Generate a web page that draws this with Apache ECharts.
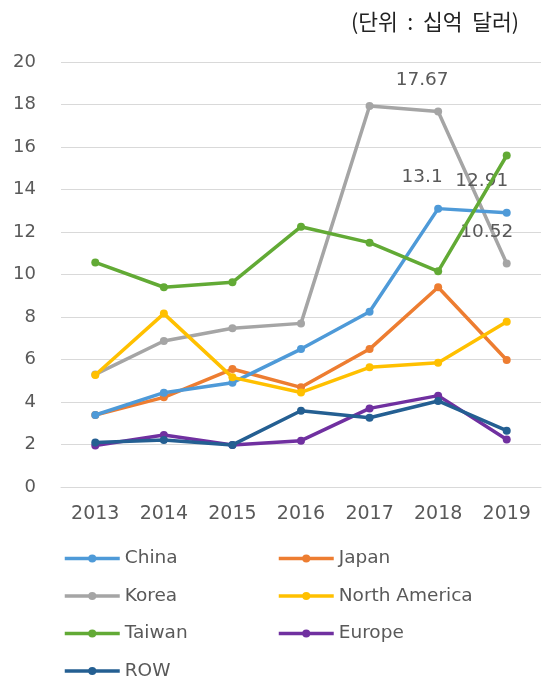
<!DOCTYPE html>
<html><head><meta charset="utf-8">
<script src="https://cdn.jsdelivr.net/npm/echarts@6/dist/echarts.min.js"></script>
<style>html,body{margin:0;padding:0;background:#fff}#c{width:543px;height:682px}</style>
</head><body><div id="c"></div>
<script>
const years = ['2013','2014','2015','2016','2017','2018','2019'];
const yTicks = [0,2,4,6,8,10,12,14,16,18,20];
const china = [3.39, 4.44, 4.91, 6.49, 8.25, 13.1, 12.91];
const japan = [3.39, 4.22, 5.55, 4.69, 6.49, 9.40, 5.98];
const korea = [5.30, 6.87, 7.47, 7.70, 17.93, 17.67, 10.52];
const northAmerica = [5.27, 8.16, 5.16, 4.45, 5.63, 5.85, 7.78];
const taiwan = [10.57, 9.40, 9.63, 12.25, 11.50, 10.15, 15.60];
const europe = [1.95, 2.45, 1.98, 2.18, 3.70, 4.30, 2.24];
const row = [2.09, 2.21, 1.98, 3.59, 3.26, 4.05, 2.65];
const labelled = {China: [5, 6], Korea: [5, 6]};

const FONT = 'DejaVu Sans';
const TXT = '#595959';
function mk(name, data, color, z, lastDx) {
  const idx = labelled[name] || [];
  return {
    name, type: 'line', data: data.map((v, i) => idx.includes(i) ? {
      value: v,
      label: {show: true, position: 'top', offset: [i === 6 ? lastDx : -16, -13], color: TXT, fontSize: 18.5, fontFamily: FONT,
        formatter: p => String(p.value)}
    } : v),
    color, z,
    symbol: 'circle', symbolSize: 8,
    lineStyle: {width: 3.5, color},
    itemStyle: {color},
    label: {show: false}
  };
}
const chart = echarts.init(document.getElementById('c'));
const legendText = {color: TXT, fontSize: 18.5, fontFamily: FONT, padding: [0,0,0,0]};
const legendBase = {orient: 'vertical', top: 549, itemGap: 18.5, padding: 0,
  itemWidth: 55, itemHeight: 10, textStyle: legendText, lineStyle: {width: 3.5}};
chart.setOption({
  animation: false,
  title: {text: '(단위  :  십억  달러)', right: 19, top: 6,
    textStyle: {fontFamily: 'Noto Sans CJK KR', fontSize: 21.5, fontWeight: 'normal', color: '#222'}},
  grid: {left: 61, right: 2, top: 62, bottom: 195},
  xAxis: {type: 'category', data: years, boundaryGap: true,
    axisLine: {show: true, lineStyle: {color: '#d9d9d9'}}, axisTick: {show: false},
    axisLabel: {color: TXT, fontSize: 19, fontFamily: FONT, margin: 18}},
  yAxis: {type: 'value', min: yTicks[0], max: yTicks[yTicks.length-1], interval: 2,
    axisLine: {show: false}, axisTick: {show: false},
    splitLine: {lineStyle: {color: '#d9d9d9', width: 1}},
    axisLabel: {color: TXT, fontSize: 18, fontFamily: FONT, margin: 25}},
  legend: [
    Object.assign({data: ['China','Korea','Taiwan','ROW'], left: 63}, legendBase),
    Object.assign({data: ['Japan','North America','Europe'], left: 277}, legendBase)
  ],
  series: [
    mk('China', china, '#4e9ad8', 6, -25),
    mk('Japan', japan, '#ed7d31', 5, 0),
    mk('Korea', korea, '#a5a5a5', 4, -20),
    mk('North America', northAmerica, '#ffc000', 7, 0),
    mk('Taiwan', taiwan, '#62aa35', 8, 0),
    mk('Europe', europe, '#7030a0', 3, 0),
    mk('ROW', row, '#245f92', 9, 0)
  ]
});
</script></body></html>
